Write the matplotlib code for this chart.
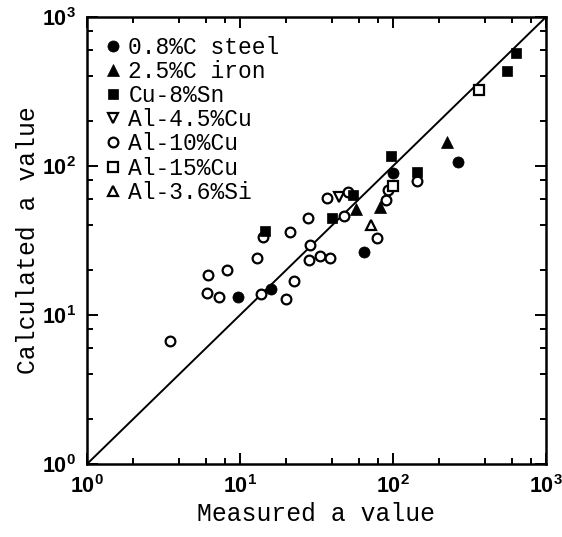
# -*- coding: utf-8 -*-
import numpy as np
import matplotlib
matplotlib.use('Agg')
import matplotlib.pyplot as plt
from matplotlib import font_manager
from matplotlib.ticker import LogLocator, NullFormatter

### measured / calculated a values for each alloy
steel_meas = [9.75, 15.9, 64.6, 100.5, 267]
steel_calc = [13.3, 14.9, 26.6, 89.4, 107]

iron_meas = [57.3, 82.2, 224]
iron_calc = [51.2, 53.4, 146]

cusn_meas = [14.6, 39.7, 54.5, 96.6, 144, 558, 637]
cusn_calc = [36.8, 44.6, 63.8, 117, 91.6, 436, 570]

al45cu_meas = [44.6]
al45cu_calc = [62.3]

al10cu_meas = [3.49, 6.15, 8.26, 6.06, 7.29, 13.7, 19.9, 22.5, 13.0, 14.2,
               21.2, 28.7, 28.4, 33.3, 38.7, 28.0, 36.9, 50.6, 48.1, 79.0,
               90.0, 93.2, 144]
al10cu_calc = [6.69, 18.5, 20.0, 14.0, 13.3, 13.8, 12.9, 16.9, 24.0, 33.6,
               35.9, 29.5, 23.4, 25.0, 24.1, 44.6, 60.7, 67.3, 46.2, 33.0,
               59.1, 69.0, 79.8]

al15cu_meas = [99.5, 365]
al15cu_calc = [73.5, 324]

alsi_meas = [71.5]
alsi_calc = [40.2]

labels = ['0.8%C steel', '2.5%C iron', 'Cu-8%Sn', 'Al-4.5%Cu',
          'Al-10%Cu', 'Al-15%Cu', 'Al-3.6%Si']

lim = [1., 1000.]


def pick_font(names):
    for name in names:
        try:
            font_manager.findfont(name, fallback_to_default=False)
            return name
        except ValueError:
            pass
    return 'DejaVu Sans'


def plot_a_values(figname='out.png'):
    mono = 'Liberation Mono'
    tickfont = pick_font(['Liberation Sans Narrow', 'Liberation Sans'])

    fig = plt.figure(figsize=(5.62, 5.37), dpi=100)
    ax = fig.add_axes([0.1548, 0.1359, 0.8167, 0.8324])

    ### 1:1 line
    ax.plot(lim, lim, c='k', lw=1.4, zorder=1)

    mew = 1.6
    open_kw = dict(linestyle='None', mfc='white', mec='k', mew=mew, zorder=2)
    fill_kw = dict(linestyle='None', mfc='k', mec='k', mew=0.5, zorder=3)

    series = [
        (steel_meas, steel_calc, 'o', 8.0, fill_kw),
        (iron_meas, iron_calc, '^', 8.5, fill_kw),
        (cusn_meas, cusn_calc, 's', 7.0, fill_kw),
        (al45cu_meas, al45cu_calc, 'v', 7.0, open_kw),
        (al10cu_meas, al10cu_calc, 'o', 7.0, open_kw),
        (al15cu_meas, al15cu_calc, 's', 7.0, open_kw),
        (alsi_meas, alsi_calc, '^', 7.0, open_kw),
    ]
    for (xs, ys, mk, ms, kw), lab in zip(series, labels):
        ax.plot(xs, ys, marker=mk, markersize=ms, label=lab, **kw)

    ax.set_xscale('log')
    ax.set_yscale('log')
    ax.set_xlim(lim)
    ax.set_ylim(lim)

    for axis in (ax.xaxis, ax.yaxis):
        axis.set_major_locator(LogLocator(base=10, numticks=10))
        axis.set_minor_locator(LogLocator(base=10, subs=(2, 4, 6, 8),
                                          numticks=10))
        axis.set_minor_formatter(NullFormatter())

    ax.tick_params(which='both', direction='in', top=True, right=True,
                   width=1.4, colors='k')
    ax.tick_params(which='major', length=8, labelsize=15.5)
    ax.tick_params(axis='x', which='major', pad=8)
    ax.tick_params(axis='y', which='major', pad=8)
    ax.tick_params(which='minor', length=4)
    plt.setp(ax.get_xticklabels() + ax.get_yticklabels(),
             family=tickfont, weight='bold')
    for sp in ax.spines.values():
        sp.set_linewidth(1.8)

    ax.set_xlabel('Measured a value', family=mono, fontsize=17.8, labelpad=3)
    ax.set_ylabel('Calculated a value', family=mono, fontsize=17.8,
                  labelpad=1)

    ax.legend(loc='upper left', bbox_to_anchor=(0.0425, 0.958),
              borderaxespad=0, borderpad=0, frameon=False,
              prop={'family': mono, 'size': 16.5},
              handlelength=0.6, handletextpad=0.35, labelspacing=0.05)

    fig.savefig(figname, dpi=100)
    return fig


if __name__ == '__main__':
    plot_a_values()
